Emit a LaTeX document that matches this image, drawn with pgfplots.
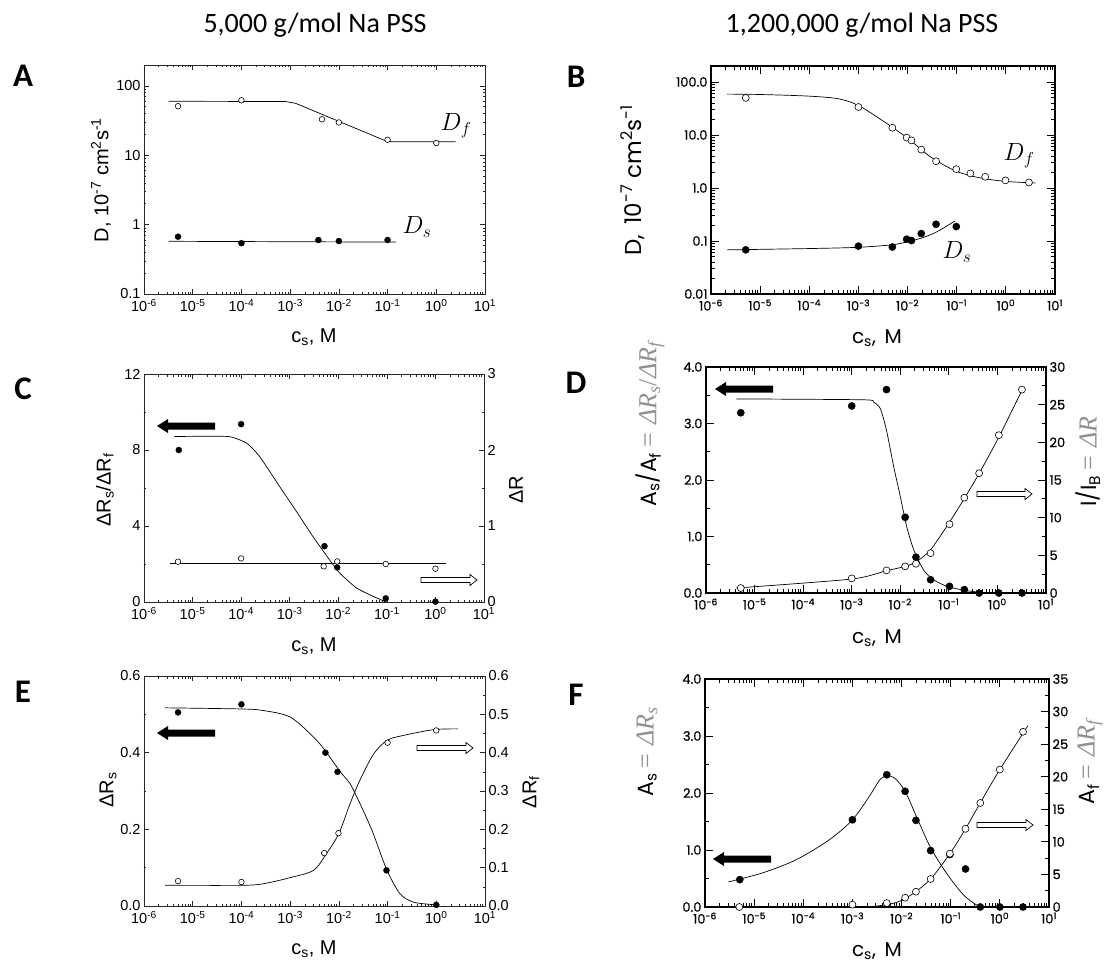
\documentclass[border=0pt]{standalone}
\usepackage{fontspec}
\setmainfont{Liberation Sans}
\newfontfamily\calibri{Carlito}
\newfontfamily\avant{Poppins}
\newfontfamily\avantb[FakeBold=0.6]{Poppins}
\newfontfamily\serifm{Liberation Serif}
\usepackage{pgfplots}
\pgfplotsset{compat=1.18}
\definecolor{lblgray}{RGB}{145,145,145}

\pgfplotsset{
 myminor/.style={minor xtick={2e-6,3e-6,4e-6,5e-6,6e-6,7e-6,8e-6,9e-6,2e-5,3e-5,4e-5,5e-5,6e-5,7e-5,8e-5,9e-5,2e-4,3e-4,4e-4,5e-4,6e-4,7e-4,8e-4,9e-4,2e-3,3e-3,4e-3,5e-3,6e-3,7e-3,8e-3,9e-3,0.02,0.03,0.04,0.05,0.06,0.07,0.08,0.09,0.2,0.3,0.4,0.5,0.6,0.7,0.8,0.9,2,3,4,5,6,7,8,9}},
 mybase/.style={scale only axis, anchor=north west, xmin=1e-6, xmax=10,
   xtick={1e-6,1e-5,1e-4,1e-3,1e-2,1e-1,1,10}, myminor, tick align=inside, clip=false,
   xticklabel style={yshift=-2pt}},
 myleft/.style={mybase,
   xticklabels={10\textsuperscript{-6},10\textsuperscript{-5},10\textsuperscript{-4},10\textsuperscript{-3},10\textsuperscript{-2},10\textsuperscript{-1},10\textsuperscript{0},10\textsuperscript{1}},
   axis line style={line width=0.8pt, black!85},
   every tick/.style={black!85, line width=0.6pt},
   major tick length=5pt, minor tick length=2.5pt,
   tick label style={font=\fontsize{14.5}{14.5}\selectfont}},
 myright/.style={mybase,
   xticklabels={10\textsuperscript{-6},10\textsuperscript{-5},10\textsuperscript{-4},10\textsuperscript{-3},10\textsuperscript{-2},10\textsuperscript{-1},10\textsuperscript{0},10\textsuperscript{1}},
   axis line style={line width=1.6pt, black},
   every tick/.style={black, line width=0.9pt},
   major tick length=8pt, minor tick length=4pt,
   tick label style={font=\avantb\fontsize{13}{13}\selectfont}},
}
\tikzset{
 myopen/.style={mark=*, mark size=#1, mark options={fill=white, draw=black, line width=0.6pt}},
 myfill/.style={mark=*, mark size=#1, mark options={fill=black, draw=black}},
 mycurve/.style={black, line width=0.7pt, smooth, tension=0.5},
}

\newcommand\blackarrow[3]{\fill[black, shift={(#1pt,-#2pt)}] (0pt,0pt) -- (11pt,7pt) -- (11pt,3.5pt) -- (#3pt,3.5pt) -- (#3pt,-3.5pt) -- (11pt,-3.5pt) -- (11pt,-7pt) -- cycle;}
\newcommand\hollowarrow[3]{\draw[fill=white, line width=0.7pt, shift={(#1pt,-#2pt)}] (0pt,0pt) -- (-7pt,5.5pt) -- (-7pt,2.5pt) -- (-#3pt,2.5pt) -- (-#3pt,-2.5pt) -- (-7pt,-2.5pt) -- (-7pt,-5.5pt) -- cycle;}
\newcommand\graylab[1]{\textcolor{lblgray}{\serifm\fontsize{26}{26}\selectfont\hspace{0.2em}=\hspace{0.3em}#1}}

\begin{document}
\begin{tikzpicture}
\path[use as bounding box] (0pt,0pt) rectangle (1106pt,-963pt);

% titles and panel letters
\node[font=\calibri\fontsize{28}{28}\selectfont] at (315pt,-25pt) {5,000 g/mol Na PSS};
\node[font=\calibri\fontsize{28}{28}\selectfont] at (862pt,-25pt) {1,200,000 g/mol Na PSS};
\node[font=\calibri\bfseries\fontsize{33}{33}\selectfont] at (23pt,-76pt) {A};
\node[font=\calibri\bfseries\fontsize{33}{33}\selectfont] at (576pt,-77pt) {B};
\node[font=\calibri\bfseries\fontsize{33}{33}\selectfont] at (23pt,-389pt) {C};
\node[font=\calibri\bfseries\fontsize{33}{33}\selectfont] at (576pt,-383pt) {D};
\node[font=\calibri\bfseries\fontsize{33}{33}\selectfont] at (23pt,-692pt) {E};
\node[font=\calibri\bfseries\fontsize{33}{33}\selectfont] at (576pt,-695pt) {F};

% ---------------- Panel A ----------------
\begin{loglogaxis}[myleft, at={(144pt,-65pt)}, width=341pt, height=229pt,
  ymin=0.1, ymax=200, ytick={0.1,1,10,100}, yticklabels={0.1,1,10,100},
  minor ytick={0.2,0.3,0.4,0.5,0.6,0.7,0.8,0.9,2,3,4,5,6,7,8,9,20,30,40,50,60,70,80,90,200}]
\addplot[mycurve, no marks, sharp plot] coordinates {(3.2e-6,60) (8e-4,59.5) (1.3e-3,56) (9e-2,16.2) (1.2e-1,15.7) (2.5,15.7)};
\addplot[only marks, myopen=2.8pt] coordinates {(5e-6,51) (1e-4,62) (4.5e-3,33) (1e-2,29.7) (1e-1,16.7) (1,15)};
\addplot[mycurve, no marks, sharp plot] coordinates {(3.2e-6,0.575) (0.15,0.56)};
\addplot[only marks, myfill=3pt] coordinates {(5e-6,0.67) (1e-4,0.54) (3.8e-3,0.6) (1e-2,0.58) (1e-1,0.6)};
\end{loglogaxis}
\node[rotate=90, font=\fontsize{20}{20}\selectfont] at (101pt,-180pt) {D, 10\textsuperscript{-7} cm\textsuperscript{2}s\textsuperscript{-1}};
\node[font=\fontsize{20}{20}\selectfont] at (314pt,-337pt) {c\textsubscript{s}, M};
\node[font=\fontsize{24}{24}\selectfont] at (456pt,-126pt) {$D_f$};
\node[font=\fontsize{24}{24}\selectfont] at (417pt,-227pt) {$D_s$};

% ---------------- Panel B ----------------
\begin{loglogaxis}[myright, at={(711pt,-66pt)}, width=344pt, height=228pt,
  ymin=0.01, ymax=200, ytick={0.01,0.1,1,10,100}, yticklabels={0.01,0.1,1.0,10.0,100.0},
  minor ytick={0.02,0.03,0.04,0.05,0.06,0.07,0.08,0.09,0.2,0.3,0.4,0.5,0.6,0.7,0.8,0.9,2,3,4,5,6,7,8,9,20,30,40,50,60,70,80,90,200}]
\addplot[mycurve, no marks] coordinates {(2.1e-6,59) (1e-5,58) (1e-4,54) (4e-4,48) (1e-3,36) (3e-3,19) (1e-2,8.7) (3e-2,3.8) (1e-1,2.05) (3e-1,1.55) (1,1.33) (4,1.24)};
\addplot[only marks, myopen=3.5pt] coordinates {(5.1e-6,50) (1e-3,33.7) (4.9e-3,13.7) (9.6e-3,8.9) (1.2e-2,7.9) (1.9e-2,5.3) (3.8e-2,3.2) (0.098,2.27) (0.19,1.88) (0.38,1.63) (0.98,1.39) (2.95,1.27)};
\addplot[mycurve, no marks] coordinates {(2.1e-6,0.068) (1e-4,0.072) (1e-3,0.076) (5e-3,0.085) (1e-2,0.097) (2e-2,0.115) (4e-2,0.15) (9.3e-2,0.24)};
\addplot[only marks, myfill=3.6pt] coordinates {(5.1e-6,0.068) (1e-3,0.080) (4.9e-3,0.077) (9.6e-3,0.108) (1.2e-2,0.102) (1.9e-2,0.138) (3.8e-2,0.207) (0.098,0.187)};
\end{loglogaxis}
\node[rotate=90, font=\avant\fontsize{23}{23}\selectfont] at (633pt,-180pt) {D,\, 10\textsuperscript{-7} cm\textsuperscript{2}s\textsuperscript{-1}};
\node[font=\avant\fontsize{20}{20}\selectfont] at (877pt,-338pt) {c\textsubscript{s},\, M};
\node[font=\fontsize{24}{24}\selectfont] at (1019pt,-156pt) {$D_f$};
\node[font=\fontsize{24}{24}\selectfont] at (957pt,-252pt) {$D_s$};

% ---------------- Panel C ----------------
\begin{semilogxaxis}[myleft, at={(144pt,-374pt)}, width=340pt, height=228pt,
  ymin=0, ymax=12, ytick={0,4,8,12}, yticklabels={0,4,8,12}, minor ytick={2,6,10}, ytick pos=left]
\addplot[mycurve, no marks, tension=0.3] coordinates {(4.2e-6,8.71) (5.4e-5,8.71) (1.3e-4,8.36) (2.4e-4,7.66) (6.2e-4,6.08) (1.37e-3,4.77) (3e-3,3.45) (6.6e-3,2.22) (1.07e-2,1.52) (2.36e-2,0.74) (5.2e-2,0.30) (9.7e-2,0.0)};
\addplot[only marks, myfill=3pt] coordinates {(5.2e-6,8.0) (1e-4,9.36) (5.2e-3,2.94) (9.5e-3,1.82) (0.095,0.19) (1,0.02)};
\end{semilogxaxis}
\begin{semilogxaxis}[myleft, at={(144pt,-374pt)}, width=340pt, height=228pt,
  axis x line=none, axis y line*=right, ytick pos=right,
  ymin=0, ymax=3, ytick={0,1,2,3}, yticklabels={0,1,2,3}, minor ytick={0.5,1.5,2.5}]
\addplot[mycurve, no marks, sharp plot] coordinates {(3.4e-6,0.512) (1.66,0.512)};
\addplot[only marks, myopen=2.8pt] coordinates {(5e-6,0.53) (1e-4,0.574) (5e-3,0.469) (9.5e-3,0.534) (0.095,0.50) (1,0.438)};
\end{semilogxaxis}
\node[rotate=90, font=\fontsize{20}{20}\selectfont] at (105pt,-490pt) {ΔR\textsubscript{s}/ΔR\textsubscript{f}};
\node[rotate=90, font=\fontsize{20}{20}\selectfont] at (516pt,-490pt) {ΔR};
\node[font=\fontsize{20}{20}\selectfont] at (314pt,-646pt) {c\textsubscript{s}, M};
\blackarrow{157}{426}{58}
\hollowarrow{477}{580}{56}

% ---------------- Panel D ----------------
\begin{semilogxaxis}[myright, at={(706pt,-367pt)}, width=340pt, height=226pt,
  ymin=0, ymax=4, ytick={0,1,2,3,4}, yticklabels={0.0,1.0,2.0,3.0,4.0}, minor ytick={0.5,1.5,2.5,3.5}, ytick pos=left]
\addplot[mycurve, no marks, tension=0.4] coordinates {(4.2e-6,3.435) (1.7e-3,3.42) (2.8e-3,3.38) (3.9e-3,3.26) (5.2e-3,2.88) (7.3e-3,2.24) (1e-2,1.71) (1.35e-2,1.18) (1.9e-2,0.76) (3e-2,0.41) (4.8e-2,0.235) (9.1e-2,0.118) (0.2,0.05) (0.44,0.01)};
\addplot[only marks, myfill=3.6pt] coordinates {(5.2e-6,3.19) (1e-3,3.31) (5.2e-3,3.60) (1.26e-2,1.34) (2.1e-2,0.635) (4.2e-2,0.235) (0.103,0.118) (0.208,0.06) (0.42,0.0) (1.07,0.0) (3.2,0.0)};
\end{semilogxaxis}
\begin{semilogxaxis}[myright, at={(706pt,-367pt)}, width=340pt, height=226pt,
  axis x line=none, axis y line*=right, ytick pos=right,
  ymin=0, ymax=30, ytick={0,5,10,15,20,25,30}, yticklabels={0,5,10,15,20,25,30}, minor ytick={2.5,7.5,12.5,17.5,22.5,27.5}]
\addplot[mycurve, no marks, tension=0.4] coordinates {(4.2e-6,0.66) (1e-3,1.85) (5.2e-3,2.96) (1.26e-2,3.53) (2.2e-2,4.19) (4.2e-2,5.73) (9e-2,8.82) (0.2,12.35) (0.44,16.1) (1.07,20.7) (3.2,26.9)};
\addplot[only marks, myopen=3.5pt] coordinates {(5.2e-6,0.66) (1e-3,1.94) (5.2e-3,3.0) (1.26e-2,3.53) (2.1e-2,3.88) (4.2e-2,5.29) (0.103,9.13) (0.208,12.66) (0.42,15.9) (1.07,20.95) (3.2,27.0)};
\end{semilogxaxis}
\node[rotate=90, anchor=west, inner sep=0pt] at (650pt,-507pt) {{\avant\fontsize{22}{22}\selectfont A\textsubscript{s}/A\textsubscript{f}}\graylab{\textit{ΔR\textsubscript{s}}/\textit{ΔR\textsubscript{f}}}};
\node[rotate=90, anchor=west, inner sep=0pt] at (1088pt,-507pt) {{\avant\fontsize{22}{22}\selectfont I/I\textsubscript{B}}\graylab{\textit{ΔR}}};
\node[font=\avant\fontsize{20}{20}\selectfont] at (877pt,-638pt) {c\textsubscript{s},\, M};
\blackarrow{715}{389}{58}
\hollowarrow{1032}{494}{55}

% ---------------- Panel E ----------------
\begin{semilogxaxis}[myleft, at={(144pt,-676pt)}, width=341pt, height=230pt,
  ymin=0, ymax=0.6, ytick={0,0.2,0.4,0.6}, yticklabels={0.0,0.2,0.4,0.6}, minor ytick={0.1,0.3,0.5}, ytick pos=left]
\addplot[mycurve, no marks] coordinates {(2.7e-6,0.517) (1e-4,0.514) (2.8e-4,0.51) (1e-3,0.493) (3e-3,0.441) (5.2e-3,0.406) (1.07e-2,0.35) (1.7e-2,0.319) (2.72e-2,0.267) (4.8e-2,0.197) (7.6e-2,0.128) (0.105,0.084) (0.18,0.032) (0.34,0.01) (1.0,0.003)};
\addplot[only marks, myfill=3pt] coordinates {(5e-6,0.505) (1e-4,0.526) (5.3e-3,0.40) (9.4e-3,0.35) (0.095,0.093) (1,0.003)};
\end{semilogxaxis}
\begin{semilogxaxis}[myleft, at={(144pt,-676pt)}, width=341pt, height=230pt,
  axis x line=none, axis y line*=right, ytick pos=right,
  ymin=0, ymax=0.6, ytick={0,0.1,0.2,0.3,0.4,0.5,0.6}, yticklabels={0.0,0.1,0.2,0.3,0.4,0.5,0.6}, minor ytick={0.05,0.15,0.25,0.35,0.45,0.55}]
\addplot[mycurve, no marks] coordinates {(2.7e-6,0.054) (1e-4,0.054) (2.8e-4,0.058) (1e-3,0.074) (3e-3,0.093) (5.6e-3,0.137) (1e-2,0.189) (1.7e-2,0.267) (2.7e-2,0.328) (5.2e-2,0.397) (9.7e-2,0.432) (0.18,0.443) (0.87,0.46) (2.8,0.462)};
\addplot[only marks, myopen=2.8pt] coordinates {(5e-6,0.065) (1e-4,0.0626) (5e-3,0.138) (9.8e-3,0.19) (0.1,0.426) (1,0.458)};
\end{semilogxaxis}
\node[rotate=90, font=\fontsize{20}{20}\selectfont] at (108pt,-790pt) {ΔR\textsubscript{s}};
\node[rotate=90, font=\fontsize{20}{20}\selectfont] at (531pt,-792pt) {ΔR\textsubscript{f}};
\node[font=\fontsize{20}{20}\selectfont] at (314pt,-949pt) {c\textsubscript{s}, M};
\blackarrow{157}{733}{58}
\hollowarrow{473}{748}{56}

% ---------------- Panel F ----------------
\begin{semilogxaxis}[myright, at={(705pt,-679pt)}, width=344pt, height=228pt,
  ymin=0, ymax=4, ytick={0,1,2,3,4}, yticklabels={0.0,1.0,2.0,3.0,4.0}, minor ytick={0.5,1.5,2.5,3.5}, ytick pos=left]
\addplot[mycurve, no marks] coordinates {(3e-6,0.44) (1.5e-5,0.6) (7.2e-5,0.83) (3.4e-4,1.18) (1e-3,1.53) (2.2e-3,1.94) (3.6e-3,2.23) (5e-3,2.30) (7.3e-3,2.26) (1.18e-2,2.03) (2e-2,1.59) (3.8e-2,1.06) (8.1e-2,0.60) (0.18,0.216) (0.33,0.04) (0.42,0.0)};
\addplot[only marks, myfill=3.6pt] coordinates {(5.1e-6,0.48) (1e-3,1.53) (5e-3,2.32) (1.18e-2,2.03) (1.96e-2,1.52) (3.9e-2,0.99) (9.6e-2,0.92) (0.2,0.667) (0.4,0) (1,0) (2.96,0)};
\end{semilogxaxis}
\begin{semilogxaxis}[myright, at={(705pt,-679pt)}, width=344pt, height=228pt,
  axis x line=none, axis y line*=right, ytick pos=right,
  ymin=0, ymax=35, ytick={0,5,10,15,20,25,30,35}, yticklabels={0,5,10,15,20,25,30,35}, minor ytick={2.5,7.5,12.5,17.5,22.5,27.5,32.5}]
\addplot[mycurve, no marks] coordinates {(2.2e-3,0) (5e-3,0.36) (9.1e-3,0.87) (1.7e-2,2.05) (3.9e-2,4.3) (9.6e-2,8.19) (0.2,12.0) (0.4,16.0) (1,21.1) (3.7,27.8)};
\addplot[only marks, myopen=3.5pt] coordinates {(5e-6,0) (1e-3,0.36) (5e-3,0.61) (1.18e-2,1.43) (1.96e-2,2.35) (3.9e-2,4.3) (9.6e-2,8.19) (0.2,12.0) (0.4,15.97) (1,21.1) (2.96,26.9)};
\end{semilogxaxis}
\node[rotate=90, anchor=west, inner sep=0pt] at (647pt,-797pt) {{\avant\fontsize{22}{22}\selectfont A\textsubscript{s}}\graylab{\textit{ΔR\textsubscript{s}}}};
\node[rotate=90, anchor=west, inner sep=0pt] at (1090pt,-805pt) {{\avant\fontsize{22}{22}\selectfont A\textsubscript{f}}\graylab{\textit{ΔR\textsubscript{f}}}};
\node[font=\avant\fontsize{20}{20}\selectfont] at (877pt,-951pt) {c\textsubscript{s},\, M};
\blackarrow{713}{859}{58}
\hollowarrow{1033}{825}{56}

\end{tikzpicture}
\end{document}
